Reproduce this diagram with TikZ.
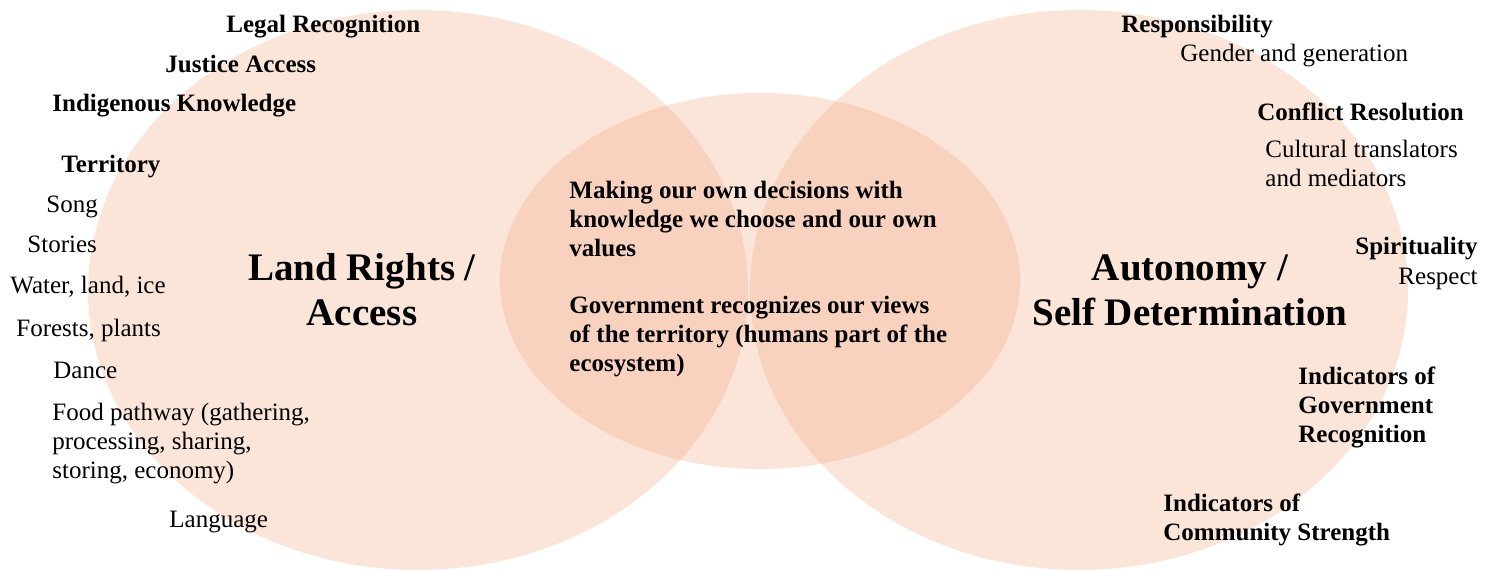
\documentclass[tikz,border=0pt]{standalone}
\usepackage{fontspec}
\setmainfont{Liberation Serif}
\definecolor{peach}{RGB}{242,168,128}
\tikzset{
  lbl/.style={inner sep=0pt, anchor=base west, align=left, font=\fontsize{12.5}{14.5}\selectfont},
  hdr/.style={lbl, font=\fontsize{12.5}{14.5}\selectfont\bfseries},
  big/.style={inner sep=0pt, anchor=base, align=center, font=\fontsize{19.5}{22.5}\selectfont\bfseries},
  blob/.style={fill=peach, fill opacity=0.3}
}
\begin{document}
\begin{tikzpicture}[x=0.5pt, y=-0.5pt]
  \useasboundingbox (0,0) rectangle (1494,571);
  \fill[blob] (418,290) ellipse [x radius=330, y radius=280];
  \fill[blob] (1079,290) ellipse [x radius=329, y radius=280];
  \fill[blob] (760,281) ellipse [x radius=260, y radius=188];

  \node[big] (land) at (362,326) {Land Rights /\\Access};
  \node[big] (auto) at (1190,326) {Autonomy /\\Self Determination};

  \node[hdr] (legal) at (226,33) {Legal Recognition};
  \node[hdr] (justice) at (165,73) {Justice Access};
  \node[hdr] (indig) at (52,112) {Indigenous Knowledge};
  \node[hdr] (terr) at (61,173) {Territory};
  \node[lbl] (song) at (46,213) {Song};
  \node[lbl] (stories) at (27,253) {Stories};
  \node[lbl] (water) at (10,294) {Water, land, ice};
  \node[lbl] (forest) at (16,337) {Forests, plants};
  \node[lbl] (dance) at (53,379) {Dance};
  \node[lbl] (food) at (52,479) {Food pathway (gathering,\\processing, sharing,\\storing, economy)};
  \node[lbl] (lang) at (169,527) {Language};

  \node[hdr] (decide) at (569,257) {Making our own decisions with\\knowledge we choose and our own\\values};
  \node[hdr] (govview) at (569,372) {Government recognizes our views\\of the territory (humans part of the\\ecosystem)};

  \node[hdr] (resp) at (1121,33) {Responsibility};
  \node[lbl] (gender) at (1180,62) {Gender and generation};
  \node[hdr] (conflict) at (1257,121) {Conflict Resolution};
  \node[lbl] (cultural) at (1265,187) {Cultural translators\\and mediators};
  \node[hdr, anchor=base east] (spirit) at (1478,255) {Spirituality};
  \node[lbl, anchor=base east] (respect) at (1478,285) {Respect};
  \node[hdr] (indgov) at (1298,443) {Indicators of\\Government\\Recognition};
  \node[hdr] (indcom) at (1163,540) {Indicators of\\Community Strength};
\end{tikzpicture}
\end{document}
